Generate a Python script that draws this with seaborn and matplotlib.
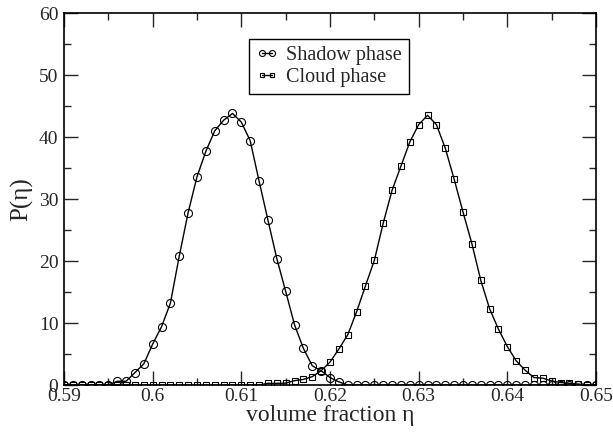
import numpy as np
import pandas as pd
import seaborn as sns
import matplotlib
matplotlib.use("Agg")
import matplotlib.pyplot as plt
from matplotlib.ticker import MultipleLocator, FuncFormatter

# volume fraction grid, 0.59 .. 0.65 in steps of 0.001
eta = np.round(np.linspace(0.590, 0.650, 61), 3)

shadow = [0, 0, 0, 0, 0, 0, 0.6, 0.6, 2.0, 3.4,
          6.6, 9.4, 13.2, 20.8, 27.8, 33.6, 37.7, 41.0, 42.7, 43.8,
          42.4, 39.4, 32.9, 26.6, 20.4, 15.1, 9.7, 5.9, 3.1, 2.3,
          1.2, 0.5, 0, 0, 0, 0, 0, 0, 0, 0,
          0, 0, 0, 0, 0, 0, 0, 0, 0, 0,
          0, 0, 0, 0, 0, 0, 0, 0, 0, 0,
          0]

cloud = [0, 0, 0, 0, 0, 0, 0, 0, 0, 0,
         0, 0, 0, 0, 0, 0, 0, 0, 0, 0,
         0, 0, 0, 0.27, 0.27, 0.3, 0.7, 0.9, 1.35, 2.3,
         3.7, 5.8, 8.1, 11.8, 16.0, 20.1, 26.1, 31.4, 35.3, 39.2,
         42.0, 43.5, 42.0, 38.2, 33.2, 27.9, 22.8, 16.9, 12.3, 9.0,
         6.2, 3.9, 2.4, 1.2, 1.1, 0.65, 0.4, 0.27, 0.15, 0,
         0]

df = pd.DataFrame({"eta": eta, "shadow": shadow, "cloud": cloud})

sns.set_style("ticks")
plt.rcParams["font.family"] = ["Liberation Serif", "DejaVu Serif"]

fig = plt.figure(figsize=(6.13, 4.32), dpi=100)
ax = fig.add_axes([64 / 613, 1 - 385 / 432, 532 / 613, 372 / 432])

sns.lineplot(data=df, x="eta", y="shadow", ax=ax, color="black", lw=1,
             marker="o", markersize=5.8, markerfacecolor="none",
             markeredgecolor="black", markeredgewidth=0.8, label="Shadow phase")
sns.lineplot(data=df, x="eta", y="cloud", ax=ax, color="black", lw=1,
             marker="s", markersize=4.8, markerfacecolor="none",
             markeredgecolor="black", markeredgewidth=0.8, label="Cloud phase")

ax.set_xlim(0.59, 0.65)
ax.set_ylim(0, 60)
ax.xaxis.set_major_locator(MultipleLocator(0.01))
ax.xaxis.set_minor_locator(MultipleLocator(0.005))
ax.yaxis.set_major_locator(MultipleLocator(10))
ax.yaxis.set_minor_locator(MultipleLocator(5))
ax.xaxis.set_major_formatter(FuncFormatter(lambda v, p: f"{v:g}"))
ax.tick_params(which="both", direction="in", top=True, right=True,
               labelsize=14, width=1)
ax.tick_params(axis="x", pad=2)
ax.tick_params(axis="y", pad=4)
ax.tick_params(which="major", length=10)
ax.tick_params(which="minor", length=5)
for s in ax.spines.values():
    s.set_linewidth(1.2)
    s.set_color("black")

ax.set_xlabel("volume fraction η", fontsize=17, labelpad=0)
ax.set_ylabel("P(η)", fontsize=18, labelpad=4)

leg = ax.legend(loc="upper left", bbox_to_anchor=(0.348, 0.93), borderaxespad=0,
                numpoints=2, handlelength=1.1, handletextpad=0.4, fontsize=14.5,
                frameon=True, fancybox=False, edgecolor="black", borderpad=0.35,
                labelspacing=0.15, framealpha=1, markerscale=0.75)
leg.get_frame().set_linewidth(1)

fig.savefig("out.png", dpi=100)
